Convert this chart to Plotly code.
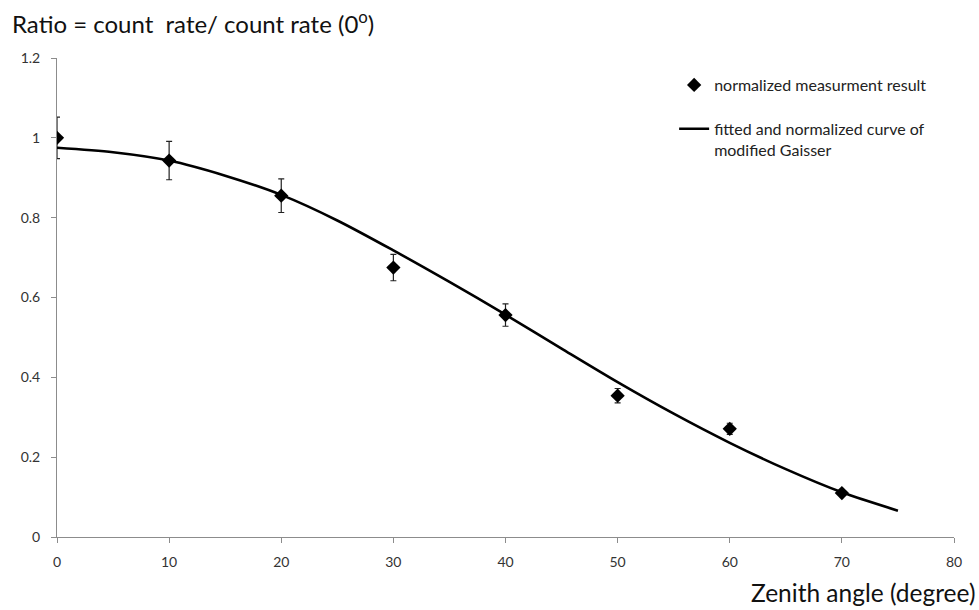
import plotly.graph_objects as go

# Measured, normalized count-rate ratios with their uncertainties
angles = [0, 10, 20, 30, 40, 50, 60, 70]
ratios = [1.0, 0.943, 0.855, 0.675, 0.556, 0.354, 0.271, 0.110]
errors = [0.052, 0.048, 0.042, 0.033, 0.028, 0.018, 0.014, 0.004]

# Fitted, normalized curve (modified Gaisser)
fit_angles = [0, 5, 10, 15, 20, 25, 30, 35, 40, 45, 50, 55, 60, 65, 70, 75]
fit_ratios = [0.975, 0.964, 0.943, 0.905, 0.857, 0.793, 0.718, 0.639, 0.557,
              0.472, 0.388, 0.309, 0.236, 0.170, 0.112, 0.066]

x_ticks = [0, 10, 20, 30, 40, 50, 60, 70, 80]
y_ticks = [0, 0.2, 0.4, 0.6, 0.8, 1.0, 1.2]
y_tick_text = ["0", "0.2", "0.4", "0.6", "0.8", "1", "1.2"]

FONT = "Lato"
AXIS_GRAY = "#8c8c8c"

fig = go.Figure()

fig.add_trace(go.Scatter(
    x=angles, y=ratios, mode="markers",
    name="normalized measurment result",
    legendgroup="a",
    marker=dict(symbol="diamond", size=11, color="black"),
    error_y=dict(type="data", array=errors, visible=True,
                 color="#222222", thickness=1.2, width=3),
))

fig.add_trace(go.Scatter(
    x=fit_angles, y=fit_ratios, mode="lines",
    name="fitted and normalized curve of<br>modified Gaisser",
    legendgroup="b",
    line=dict(color="black", width=2.6, shape="spline", smoothing=0.8),
))

axis_common = dict(
    showgrid=False, zeroline=False, showline=True,
    linecolor=AXIS_GRAY, linewidth=1,
    ticks="outside", ticklen=5, tickcolor=AXIS_GRAY,
    tickfont=dict(family=FONT, size=14, color="#333333"),
)

fig.update_xaxes(range=[0, 80], tickvals=x_ticks, ticklabelstandoff=7,
                 **axis_common)
fig.update_yaxes(range=[0, 1.2], tickvals=y_ticks, ticktext=y_tick_text,
                 ticklabelstandoff=8, **axis_common)

fig.update_layout(
    width=979, height=610,
    margin=dict(l=57, r=25, t=58, b=73),
    plot_bgcolor="white", paper_bgcolor="white",
    showlegend=True,
    legend=dict(
        x=0.688, y=0.979, xanchor="left", yanchor="top",
        font=dict(family=FONT, size=16, color="#222222"),
        bgcolor="rgba(0,0,0,0)", tracegroupgap=20,
        itemwidth=30, valign="top",
    ),
    annotations=[
        dict(text="Ratio = count  rate/ count rate (0<sup>o</sup>)",
             xref="paper", yref="paper", x=-0.052, y=1.075,
             xanchor="left", yanchor="middle", showarrow=False,
             font=dict(family=FONT, size=24, color="#111111")),
        dict(text="Zenith angle (degree)",
             xref="paper", yref="paper", x=1.0256, y=-0.115,
             xanchor="right", yanchor="middle", showarrow=False,
             font=dict(family=FONT, size=24.5, color="#111111")),
    ],
)

fig.write_html("out.html")
